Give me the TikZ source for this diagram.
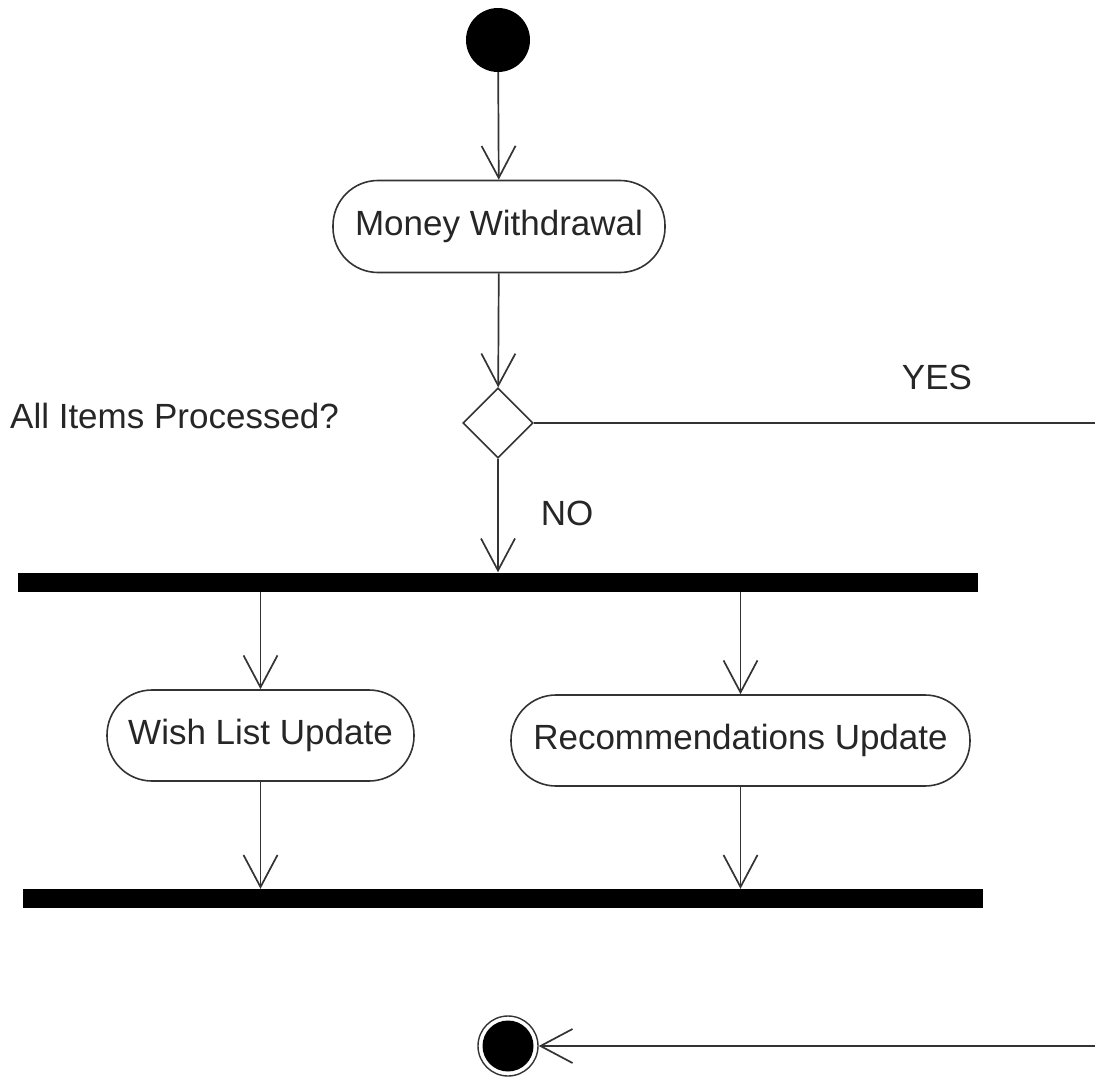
\documentclass[tikz,border=0pt]{standalone}
\usepackage{fontspec}
\setmainfont{Liberation Sans}
\usetikzlibrary{shapes.geometric,arrows.meta}
\definecolor{ln}{HTML}{333333}
\tikzset{
  lbl/.style={font=\fontsize{35}{42}\selectfont, text=black!85, inner sep=0pt},
  act/.style={draw=ln, line width=1.6pt, rectangle, rounded corners=45pt, fill=white, lbl},
  bar/.style={fill=black, draw=none, rectangle, minimum width=960pt, minimum height=19pt, inner sep=0pt},
  flow/.style={draw=ln, line width=1.7pt, -{Straight Barb[length=32pt, width=34pt, line width=1.7pt]}},
  plain/.style={draw=ln, line width=1.7pt}
}
\begin{document}
\begin{tikzpicture}[x=1pt, y=-1pt]
\useasboundingbox (0,0) rectangle (1095,1078);
\node[circle, fill=black, minimum size=64pt, inner sep=0pt] (init) at (498,40) {};
\node[act, minimum width=332pt, minimum height=92pt] (mw) at (499,226.5) {Money Withdrawal};
\node[diamond, draw=ln, line width=1.6pt, aspect=1, minimum width=70pt, minimum height=70pt, inner sep=0pt] (dec) at (498,423) {};
\node[lbl, anchor=west] (q) at (10,416) {All Items Processed?};
\node[lbl] (yes) at (937,377) {YES};
\node[lbl] (no) at (567,513) {NO};
\node[bar] (fork) at (498,582) {};
\node[act, minimum width=307pt, minimum height=91pt] (wlu) at (260.5,735.5) {Wish List Update};
\node[act, minimum width=459pt, minimum height=91pt] (ru) at (740.5,740.5) {Recommendations Update};
\node[bar] (join) at (502.5,898.5) {};
\node[circle, draw=ln, line width=1.4pt, minimum size=60pt, inner sep=0pt,
      path picture={\fill[black] (path picture bounding box.center) circle (25.5pt);}] (final) at (508,1046) {};
\coordinate (yesend) at (1095,423);
\coordinate (retstart) at (1095,1046);

\draw[flow] (init) -- (mw);
\draw[flow] (mw) -- (dec);
\draw[flow] (dec) -- (dec |- fork.north);
\draw[plain] (dec.east) -- (yesend);
\draw[flow] (wlu.north |- fork.south) -- (wlu.north);
\draw[flow] (ru.north |- fork.south) -- (ru.north);
\draw[flow] (wlu.south) -- (wlu.south |- join.north);
\draw[flow] (ru.south) -- (ru.south |- join.north);
\draw[flow] (retstart) -- (final.east);
\end{tikzpicture}
\end{document}
